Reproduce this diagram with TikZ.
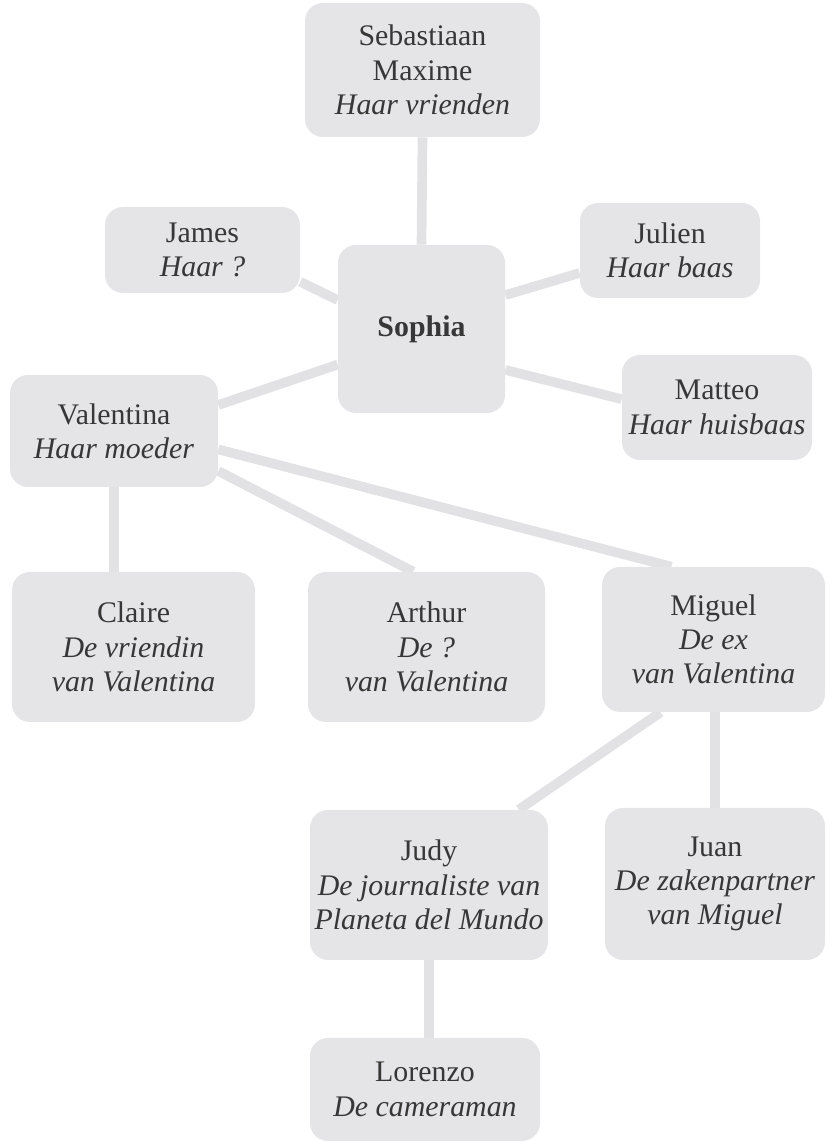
\documentclass[tikz,border=0pt]{standalone}
\usepackage{fontspec}
\setmainfont{Liberation Serif}
\usetikzlibrary{backgrounds}
\definecolor{boxgray}{RGB}{229,229,231}
\definecolor{linegray}{RGB}{226,226,228}
\definecolor{textgray}{RGB}{55,55,55}
\begin{document}
\begin{tikzpicture}[
  person/.style={fill=boxgray, rounded corners=0.36cm, align=center, text=textgray,
    inner sep=0pt, font=\fontsize{17}{19.5}\selectfont},
  link/.style={draw=linegray, line width=5.5pt}
]
  \useasboundingbox (0,0) rectangle (16.6,22.82);
  \begin{scope}
    \node[person, minimum width=4.7cm, minimum height=2.68cm] (seb) at (8.45,21.42)
      {Sebastiaan\\Maxime\\\textit{Haar vrienden}};
    \node[person, minimum width=3.9cm, minimum height=1.72cm] (james) at (4.05,17.82)
      {James\\\textit{Haar ?}};
    \node[person, minimum width=3.34cm, minimum height=3.36cm] (sophia) at (8.43,16.24)
      {\textbf{Sophia}};
    \node[person, minimum width=3.6cm, minimum height=1.9cm] (julien) at (13.4,17.81)
      {Julien\\\textit{Haar baas}};
    \node[person, minimum width=3.8cm, minimum height=2.1cm] (matteo) at (14.34,14.67)
      {Matteo\\\textit{Haar huisbaas}};
    \node[person, minimum width=4.16cm, minimum height=2.24cm] (vale) at (2.28,14.2)
      {Valentina\\\textit{Haar moeder}};

    \node[person, minimum width=4.86cm, minimum height=3cm] (claire) at (2.67,9.88)
      {Claire\\\textit{De vriendin}\\\textit{van Valentina}};
    \node[person, minimum width=4.74cm, minimum height=3cm] (arthur) at (8.53,9.88)
      {Arthur\\\textit{De ?}\\\textit{van Valentina}};
    \node[person, minimum width=4.46cm, minimum height=2.9cm] (miguel) at (14.27,10.03)
      {Miguel\\\textit{De ex}\\\textit{van Valentina}};

    \node[person, minimum width=4.76cm, minimum height=3cm] (judy) at (8.58,5.12)
      {Judy\\\textit{De journaliste van}\\\textit{Planeta del Mundo}};
    \node[person, minimum width=4.4cm, minimum height=3.04cm] (juan) at (14.3,5.14)
      {Juan\\\textit{De zakenpartner}\\\textit{van Miguel}};
    \node[person, minimum width=4.6cm, minimum height=2.06cm] (lorenzo) at (8.5,1.03)
      {Lorenzo\\\textit{De cameraman}};
  \end{scope}
  \begin{scope}[on background layer]
    \draw[link] (seb.south) -- (sophia.north);
    \draw[link] (james.-18) -- (sophia.161);
    \draw[link] (sophia.22) -- (julien.194);
    \draw[link] (sophia.-26) -- (matteo.175);
    \draw[link] (sophia.203) -- (vale.14);
    \draw[link] (vale.south) -- (vale.south |- claire.north);
    \draw[link] (vale.-21) -- (arthur.100);
    \draw[link] (vale.-10) -- (miguel.120);
    \draw[link] (miguel.234) -- (judy.40);
    \draw[link] (juan.north |- miguel.south) -- (juan.north);
    \draw[link] (judy.south) -- (judy.south |- lorenzo.north);
  \end{scope}
\end{tikzpicture}
\end{document}
